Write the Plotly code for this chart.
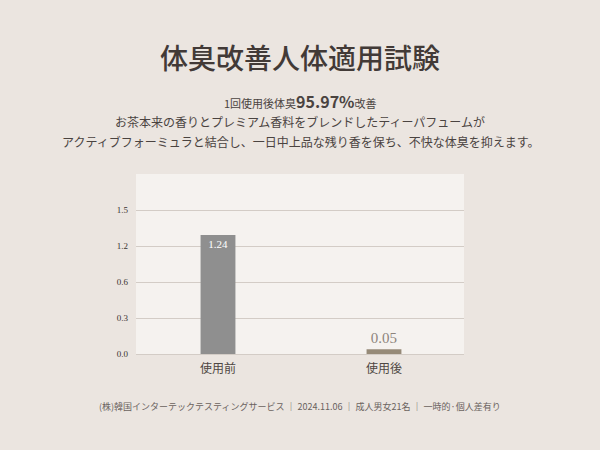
import numpy as np
import plotly.graph_objects as go

# data
categories = ["使用前", "使用後"]
values = [1.24, 0.05]
value_labels = ["1.24", "0.05"]
tick_labels = ["0.0", "0.3", "0.6", "1.2", "1.5"]

title_text = "体臭改善人体適用試験"
headline = "1回使用後体臭<b><span style='font-size:16px'>95.97%</span></b>改善"
desc_lines = [
    "お茶本来の香りとプレミアム香料をブレンドしたティーパフュームが",
    "アクティブフォーミュラと結合し、一日中上品な残り香を保ち、不快な体臭を抑えます。",
]
footer = "(株)韓国インターテックテスティングサービス ｜ 2024.11.06 ｜ 成人男女21名 ｜ 一時的·個人差有り"

BG = "#ebe5e0"
PANEL = "#f5f2ef"
JP = "Noto Sans CJK JP"
SERIF = "Liberation Serif"

# gridlines are evenly spaced up to 1.5 (the original labels them oddly)
grid_pos = np.linspace(0, 1.5, len(tick_labels))

fig = go.Figure(go.Bar(
    x=categories,
    y=values,
    width=0.21,
    marker=dict(color=["#8f8f8f", "#968a78"], line_width=0),
    text=value_labels,
    textposition=["inside", "outside"],
    insidetextanchor="end",
    insidetextfont=dict(family=SERIF, size=11, color="white"),
    outsidetextfont=dict(family=SERIF, size=15, color="#8d847c"),
    cliponaxis=False,
    hoverinfo="skip",
))

T, B = 174, 96


def py(pix):
    # page pixel row -> paper y
    return (450 - B - pix) / (450 - T - B)


anns = [
    dict(text=title_text, y=py(57), font=dict(family=JP, size=28, color="#423a37", weight=500)),
    dict(text=headline, y=py(101), font=dict(family=JP, size=11, color="#4a4340")),
    dict(text=desc_lines[0], y=py(121.5), font=dict(family=JP, size=12, color="#4a4340")),
    dict(text=desc_lines[1], y=py(141.5), font=dict(family=JP, size=12, color="#4a4340")),
    dict(text=footer, y=py(406), font=dict(family=JP, size=9, color="#6a625e")),
]
for a in anns:
    a.update(x=0.5, xref="paper", yref="paper", xanchor="center",
             yanchor="middle", showarrow=False)

fig.update_layout(
    width=600, height=450,
    margin=dict(l=136, r=136, t=T, b=B),
    paper_bgcolor=BG,
    plot_bgcolor=PANEL,
    showlegend=False,
    annotations=anns,
    xaxis=dict(
        range=[-0.494, 1.482],
        showgrid=False, zeroline=False, showline=False,
        ticks="", ticklabelstandoff=6,
        tickfont=dict(family=JP, size=12, color="#4e4743"),
    ),
    yaxis=dict(
        range=[0, 1.875],
        tickvals=list(grid_pos), ticktext=tick_labels,
        showgrid=True, gridcolor="#d3ccc6", gridwidth=1,
        zeroline=True, zerolinecolor="#d3ccc6", zerolinewidth=1,
        showline=False, ticks="", ticklabelstandoff=7,
        tickfont=dict(family=SERIF, size=9, color="#3a3330"),
    ),
)

fig.write_html("out.html", config={"displayModeBar": False},
               post_script="document.body.style.margin='0';")
